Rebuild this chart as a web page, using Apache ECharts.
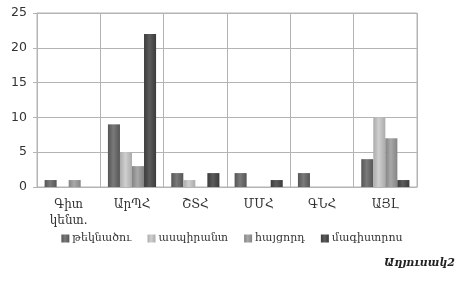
<!DOCTYPE html>
<html>
<head>
<meta charset="utf-8">
<script src="https://cdn.jsdelivr.net/npm/echarts@6/dist/echarts.min.js"></script>
<style>
  html, body { margin: 0; padding: 0; background: #fff; }
  #chart { width: 464px; height: 282px; }
</style>
</head>
<body>
<div id="chart"></div>
<script>
const categories = ['Գիտ\nկենտ.', 'ԱրՊՀ', 'ՇՏՀ', 'ՄՄՀ', 'ԳՆՀ', 'ԱՅԼ'];
const seriesNames = ['թեկնածու', 'ասպիրանտ', 'հայցորդ', 'մագիստրոս'];
const candidate = [1, 9, 2, 2, 2, 4];
const aspirant = [0, 5, 1, 0, 0, 10];
const applicant = [1, 3, 0, 0, 0, 7];
const master = [0, 22, 2, 1, 0, 1];
const yTicks = [0, 5, 10, 15, 20, 25];

const seriesValues = [candidate, aspirant, applicant, master];
const baseColors = ['#555555', '#ababab', '#848484', '#3b3b3b'];
const lightColors = ['#7a7a7a', '#cfcfcf', '#a8a8a8', '#5c5c5c'];

const chart = echarts.init(document.getElementById('chart'));

function barColor(i) {
  return new echarts.graphic.LinearGradient(0, 0, 1, 0, [
    { offset: 0, color: baseColors[i] },
    { offset: 0.45, color: lightColors[i] },
    { offset: 1, color: baseColors[i] }
  ]);
}

const option = {
  animation: false,
  textStyle: { fontFamily: 'DejaVu Serif' },
  grid: {
    left: 37, right: 47, top: 13, bottom: 95,
    show: true, borderColor: '#b4b4b4', borderWidth: 1
  },
  legend: {
    data: seriesNames,
    bottom: 33,
    left: 'center',
    itemWidth: 8,
    itemHeight: 8,
    itemGap: 16,
    icon: 'rect',
    textStyle: { fontFamily: 'DejaVu Serif', fontSize: 11, color: '#333', padding: [0, 0, 0, -2] }
  },
  title: {
    text: 'Աղյուսակ2',
    right: 4,
    bottom: 8,
    textStyle: { fontFamily: 'DejaVu Serif', fontSize: 11, fontStyle: 'italic', fontWeight: 'bold', color: '#222' }
  },
  xAxis: {
    type: 'category',
    data: categories,
    axisLine: { lineStyle: { color: '#b4b4b4' } },
    axisTick: { show: false },
    splitLine: { show: true, lineStyle: { color: '#b4b4b4' } },
    axisLabel: { color: '#333', fontSize: 12, margin: 10, lineHeight: 16, interval: 0 }
  },
  yAxis: {
    type: 'value',
    min: 0,
    max: 25,
    interval: 5,
    axisLine: { show: true, lineStyle: { color: '#b4b4b4' } },
    axisTick: { show: true, length: 4, lineStyle: { color: '#b4b4b4' } },
    splitLine: { lineStyle: { color: '#b4b4b4' } },
    axisLabel: {
      color: '#333', fontSize: 12.5, margin: 10, fontFamily: 'DejaVu Sans',
      formatter: v => (yTicks.includes(v) ? String(v) : '')
    }
  },
  series: seriesNames.map((name, i) => ({
    name,
    type: 'bar',
    data: seriesValues[i],
    barGap: '0%',
    barCategoryGap: '24%',
    itemStyle: { color: barColor(i), borderWidth: 0 }
  }))
};

chart.setOption(option);
</script>
</body>
</html>
